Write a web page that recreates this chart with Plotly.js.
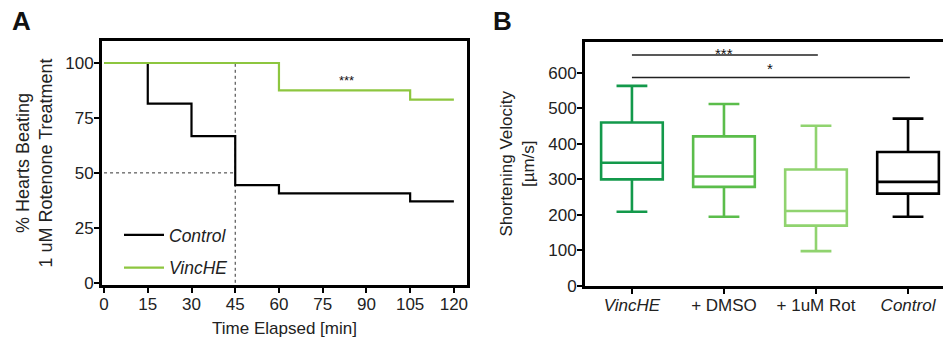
<!DOCTYPE html>
<html>
<head>
<meta charset="utf-8">
<script src="https://cdn.plot.ly/plotly-3.0.1.min.js"></script>
<style>html,body{margin:0;padding:0;background:#fff}#chart{width:943px;height:340px}</style>
</head>
<body>
<div id="chart"></div>
<script>
// ---------- Panel A: survival (step) data ----------
const timeTicks = [0, 15, 30, 45, 60, 75, 90, 105, 120];
const pctTicks = [0, 25, 50, 75, 100];
const controlTime = [0, 15, 30, 45, 60, 105, 120];
const controlPct  = [100, 81.5, 66.7, 44.4, 40.7, 37.0, 37.0];
const vincTime = [0, 60, 105, 120];
const vincPct  = [100, 87.5, 83.3, 83.3];
const medianTime = 45;   // dotted guide (time at 50 %)
const medianPct = 50;
const sigA = {x: 83, y: 92, text: '***'};

// ---------- Panel B: box plot data ----------
const boxCategories = ['VincHE', '+ DMSO', '+ 1uM Rot', 'Control'];
const boxTickText = ['<i>VincHE</i>', '+ DMSO', '+ 1uM Rot', '<i>Control</i>'];
const boxUpper  = [563, 512, 451, 471];
const boxQ3     = [460, 421, 328, 377];
const boxMedian = [347, 308, 211, 293];
const boxQ1     = [300, 279, 170, 260];
const boxLower  = [209, 195, 98, 195];
const boxColors = ['#13994b', '#5bbd4b', '#90d36f', '#000000'];
const velTicks = [0, 100, 200, 300, 400, 500, 600];
const sigFrom  = ['VincHE', 'VincHE'];
const sigTo    = ['+ 1uM Rot', 'Control'];
const sigY     = [650, 587];
const sigLabel = ['***', '*'];

const FONT = 'Arial, "Liberation Sans", sans-serif';
const TXT = '#222';

const traces = [];
traces.push({
  type: 'scatter', mode: 'lines', x: controlTime, y: controlPct,
  line: {shape: 'hv', color: '#000', width: 2.2},
  name: '<i>Control</i>', legendgroup: 'c', xaxis: 'x', yaxis: 'y'
});
traces.push({
  type: 'scatter', mode: 'lines', x: vincTime, y: vincPct,
  line: {shape: 'hv', color: '#8dc63f', width: 2.2},
  name: '<i>VincHE</i>', legendgroup: 'v', xaxis: 'x', yaxis: 'y'
});
for (let i = 0; i < boxCategories.length; i++) {
  traces.push({
    type: 'box', x: [boxCategories[i]],
    q1: [boxQ1[i]], median: [boxMedian[i]], q3: [boxQ3[i]],
    lowerfence: [boxLower[i]], upperfence: [boxUpper[i]],
    width: 0.67, whiskerwidth: 0.5,
    line: {color: boxColors[i], width: 2.6},
    fillcolor: 'rgba(255,255,255,0)',
    showlegend: false, xaxis: 'x2', yaxis: 'y2', boxpoints: false
  });
}

const shapes = [
  {type: 'line', xref: 'x', yref: 'y', x0: 0, x1: medianTime, y0: medianPct, y1: medianPct,
   line: {color: '#333', width: 1, dash: 'dot'}, layer: 'below'},
  {type: 'line', xref: 'x', yref: 'y', x0: medianTime, x1: medianTime, y0: 0, y1: 100,
   line: {color: '#333', width: 1, dash: 'dot'}, layer: 'below'}
];
const annotations = [
  {xref: 'paper', yref: 'paper', x: 21 / 943, y: 1 - 21 / 340, xanchor: 'center', yanchor: 'middle',
   text: '<b>A</b>', showarrow: false, font: {family: FONT, size: 26, color: '#111'}},
  {xref: 'paper', yref: 'paper', x: 502 / 943, y: 1 - 21 / 340, xanchor: 'center', yanchor: 'middle',
   text: '<b>B</b>', showarrow: false, font: {family: FONT, size: 26, color: '#111'}},
  {xref: 'x', yref: 'y', x: sigA.x, y: sigA.y, text: sigA.text, showarrow: false,
   font: {family: FONT, size: 13, color: '#111'}}
];
for (let i = 0; i < sigFrom.length; i++) {
  const a = boxCategories.indexOf(sigFrom[i]);
  const b = boxCategories.indexOf(sigTo[i]);
  shapes.push({type: 'line', xref: 'x2', yref: 'y2', x0: a, x1: b + 0.02, y0: sigY[i], y1: sigY[i],
    line: {color: '#222', width: 1.5}});
  annotations.push({xref: 'x2', yref: 'y2', x: (a + b) / 2, y: sigY[i], text: sigLabel[i],
    showarrow: false, yanchor: 'bottom', yshift: i === 0 ? -9 : -2, font: {family: FONT, size: 15, color: '#111'}});
}

const axCommon = {
  showline: true, linecolor: '#000', linewidth: 3, mirror: true,
  ticks: 'outside', ticklen: 5, tickwidth: 2, tickcolor: '#000',
  showgrid: false, zeroline: false, fixedrange: true,
  ticklabelstandoff: -3,
  tickfont: {family: FONT, size: 17, color: TXT}
};

const layout = {
  width: 943, height: 340,
  margin: {l: 0, r: 0, t: 0, b: 0},
  paper_bgcolor: '#fff', plot_bgcolor: '#fff',
  font: {family: FONT, color: TXT},
  showlegend: true,
  legend: {
    x: 119 / 943, y: 1 - 217 / 340, xanchor: 'left', yanchor: 'top',
    bgcolor: 'rgba(0,0,0,0)', font: {family: FONT, size: 17.5, color: TXT},
    traceorder: 'grouped', tracegroupgap: 7, itemwidth: 40
  },
  xaxis: Object.assign({}, axCommon, {
    domain: [102 / 943, 467 / 943], range: [-0.7, 124.5],
    tickvals: timeTicks, anchor: 'y',
    title: {text: 'Time Elapsed [min]', font: {family: FONT, size: 17, color: TXT}, standoff: 9}
  }),
  yaxis: Object.assign({}, axCommon, {
    domain: [1 - 285 / 340, 1 - 41 / 340], range: [-1, 110],
    tickvals: pctTicks, anchor: 'x',
    title: {text: '% Hearts Beating<br>1 uM Rotenone Treatment', font: {family: FONT, size: 18, color: TXT}, standoff: 8}
  }),
  xaxis2: Object.assign({}, axCommon, {
    domain: [585 / 943, 943 / 943], range: [-0.51, 3.38],
    type: 'category', categoryarray: boxCategories, categoryorder: 'array',
    tickvals: boxCategories, ticktext: boxTickText, anchor: 'y2'
  }),
  yaxis2: Object.assign({}, axCommon, {
    domain: [1 - 286 / 340, 1 - 41.5 / 340], range: [0, 688],
    tickvals: velTicks, anchor: 'x2',
    title: {text: 'Shortening Velocity<br>[µm/s]', font: {family: FONT, size: 17, color: TXT}, standoff: 10}
  }),
  shapes: shapes,
  annotations: annotations
};

Plotly.newPlot('chart', traces, layout, {staticPlot: true, displayModeBar: false});
</script>
</body>
</html>
